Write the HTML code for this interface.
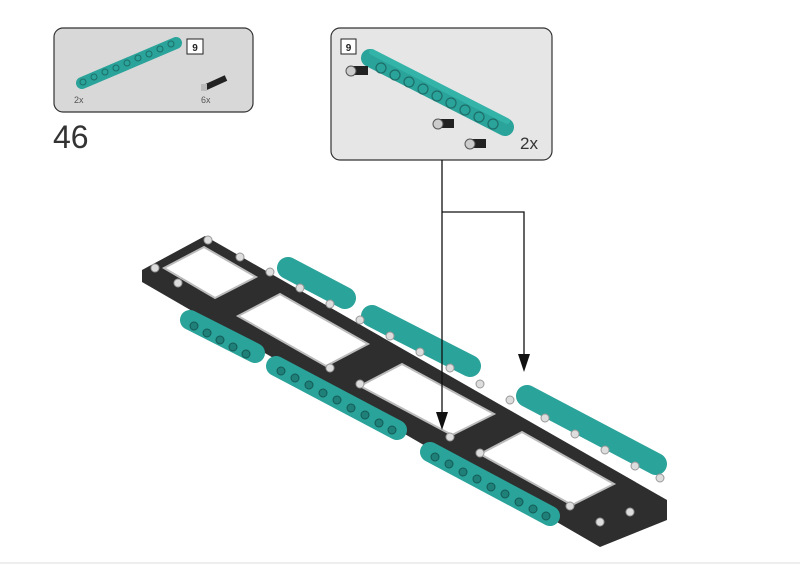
<!DOCTYPE html>
<html><head><style>
html,body{margin:0;padding:0;background:#fff;}
svg{display:block}
text{font-family:"Liberation Sans",sans-serif}
</style></head><body>
<svg width="800" height="566" viewBox="0 0 800 566" xmlns="http://www.w3.org/2000/svg">
<rect x="0" y="0" width="800" height="566" fill="#fff"/>
<line x1="0" y1="563" x2="800" y2="563" stroke="#ddd"/>
<!-- left panel -->
<rect x="54" y="28" width="199" height="84" rx="9" fill="#d8d8d8" stroke="#333" stroke-width="1.2"/>
<line x1="82" y1="83" x2="176" y2="43" stroke="#2aa39a" stroke-width="12" stroke-linecap="round"/>
<g fill="none" stroke="#1d6e68" stroke-width="1">
<circle cx="83" cy="82" r="3"/><circle cx="94" cy="77" r="3"/><circle cx="105" cy="72" r="3"/><circle cx="116" cy="68" r="3"/><circle cx="127" cy="63" r="3"/><circle cx="138" cy="58" r="3"/><circle cx="149" cy="54" r="3"/><circle cx="160" cy="49" r="3"/><circle cx="171" cy="44" r="3"/>
</g>
<rect x="187" y="39" width="16" height="15" fill="#fff" stroke="#222"/>
<text x="195" y="51" font-size="10" font-weight="bold" text-anchor="middle" fill="#222">9</text>
<line x1="204" y1="88" x2="226" y2="78" stroke="#222" stroke-width="6"/>
<rect x="201" y="84" width="6" height="7" fill="#bbb"/>
<text x="74" y="103" font-size="9" fill="#555">2x</text>
<text x="201" y="103" font-size="9" fill="#555">6x</text>
<text x="53" y="148" font-size="32" fill="#333" font-weight="300">46</text>
<!-- right panel -->
<rect x="331" y="28" width="221" height="132" rx="9" fill="#e6e6e6" stroke="#333" stroke-width="1.2"/>
<rect x="341" y="39" width="15" height="15" fill="#fff" stroke="#222"/>
<text x="348.5" y="51" font-size="10" font-weight="bold" text-anchor="middle" fill="#222">9</text>
<line x1="370" y1="58" x2="505" y2="127" stroke="#2aa39a" stroke-width="18" stroke-linecap="round"/>
<line x1="372" y1="52" x2="507" y2="121" stroke="#34b3a9" stroke-width="6" stroke-linecap="round"/>
<g fill="none" stroke="#1d6e68" stroke-width="1.2">
<circle cx="381" cy="68" r="5"/><circle cx="395" cy="75" r="5"/><circle cx="409" cy="82" r="5"/><circle cx="423" cy="89" r="5"/><circle cx="437" cy="96" r="5"/><circle cx="451" cy="103" r="5"/><circle cx="465" cy="110" r="5"/><circle cx="479" cy="117" r="5"/><circle cx="493" cy="124" r="5"/>
</g>
<g fill="#222"><rect x="350" y="66" width="18" height="9"/><rect x="436" y="119" width="18" height="9"/><rect x="468" y="139" width="18" height="9"/></g>
<g fill="#ccc" stroke="#555"><circle cx="351" cy="71" r="5"/><circle cx="438" cy="124" r="5"/><circle cx="470" cy="144" r="5"/></g>
<text x="520" y="149" font-size="17" fill="#333">2x</text>
<!-- back teal beams -->
<g stroke="#2aa39a" stroke-width="22" stroke-linecap="round">
<line x1="288" y1="268" x2="345" y2="298"/>
<line x1="372" y1="316" x2="470" y2="366"/>
<line x1="527" y1="396" x2="656" y2="464"/>
</g>
<!-- dark frame strip -->
<polygon points="142,270 205,236 667,500 667,520 600,547 142,282" fill="#2e2e2e"/>
<!-- openings -->
<g fill="#fff" stroke="#bbb" stroke-width="2">
<polygon points="164,268 204,247 256,277 215,298"/>
<polygon points="238,316 280,294 368,344 326,366"/>
<polygon points="360,386 402,364 494,414 452,435"/>
<polygon points="480,454 522,432 614,484 572,505"/>
</g>
<!-- holes along edges -->
<g fill="#ddd" stroke="#999" stroke-width="1">
<circle cx="155" cy="268" r="4"/><circle cx="208" cy="240" r="4"/><circle cx="178" cy="283" r="4"/><circle cx="240" cy="257" r="4"/><circle cx="270" cy="272" r="4"/><circle cx="300" cy="288" r="4"/><circle cx="330" cy="304" r="4"/><circle cx="360" cy="320" r="4"/><circle cx="390" cy="336" r="4"/><circle cx="420" cy="352" r="4"/><circle cx="450" cy="368" r="4"/><circle cx="480" cy="384" r="4"/><circle cx="510" cy="400" r="4"/><circle cx="545" cy="418" r="4"/><circle cx="575" cy="434" r="4"/><circle cx="605" cy="450" r="4"/><circle cx="635" cy="466" r="4"/><circle cx="660" cy="478" r="4"/>
<circle cx="330" cy="368" r="4"/><circle cx="360" cy="384" r="4"/><circle cx="450" cy="437" r="4"/><circle cx="480" cy="453" r="4"/><circle cx="570" cy="506" r="4"/><circle cx="600" cy="522" r="4"/><circle cx="630" cy="512" r="4"/>
</g>
<!-- front teal beams -->
<g stroke="#2aa39a" stroke-width="20" stroke-linecap="round">
<line x1="190" y1="320" x2="255" y2="353"/>
<line x1="276" y1="366" x2="397" y2="430"/>
<line x1="430" y1="452" x2="550" y2="516"/>
</g>
<g fill="#1f8079" stroke="#145a55" stroke-width="1">
<circle cx="194" cy="326" r="4"/><circle cx="207" cy="333" r="4"/><circle cx="220" cy="340" r="4"/><circle cx="233" cy="347" r="4"/><circle cx="246" cy="354" r="4"/>
<circle cx="281" cy="371" r="4"/><circle cx="295" cy="378" r="4"/><circle cx="309" cy="385" r="4"/><circle cx="323" cy="393" r="4"/><circle cx="337" cy="400" r="4"/><circle cx="351" cy="408" r="4"/><circle cx="365" cy="415" r="4"/><circle cx="379" cy="423" r="4"/><circle cx="392" cy="430" r="4"/>
<circle cx="435" cy="457" r="4"/><circle cx="449" cy="464" r="4"/><circle cx="463" cy="472" r="4"/><circle cx="477" cy="479" r="4"/><circle cx="491" cy="487" r="4"/><circle cx="505" cy="494" r="4"/><circle cx="519" cy="502" r="4"/><circle cx="533" cy="509" r="4"/><circle cx="546" cy="516" r="4"/>
</g>
<!-- arrows -->
<g stroke="#111" stroke-width="1.3" fill="none">
<line x1="442" y1="160" x2="442" y2="414"/>
<polyline points="442,212 524,212 524,356"/>
</g>
<g fill="#111">
<polygon points="436,412 448,412 442,430"/>
<polygon points="518,354 530,354 524,372"/>
</g>
</svg>
</body></html>
